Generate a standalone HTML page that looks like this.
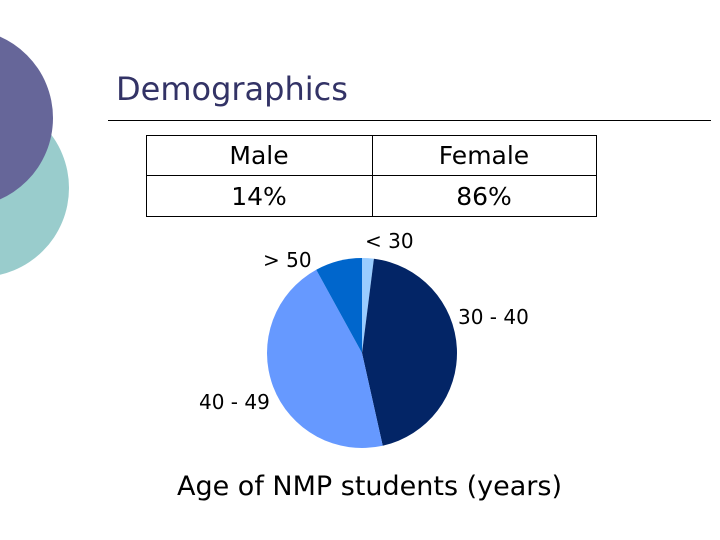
<!DOCTYPE html>
<html><head><meta charset="utf-8"><style>
body{margin:0;width:720px;height:540px;background:#fff;overflow:hidden;position:relative;font-family:"Comic Sans MS","DejaVu Sans","Liberation Sans",sans-serif}
.t{position:absolute;white-space:nowrap}
</style></head><body>
<svg width="720" height="540" style="position:absolute;left:0;top:0">
<circle cx="-20" cy="188" r="89" fill="#99cccc"/>
<circle cx="-36" cy="118" r="89" fill="#666699"/>
<line x1="108" y1="120.5" x2="711" y2="120.5" stroke="#000" stroke-width="1"/>
<rect x="146.5" y="135.5" width="450" height="81" fill="none" stroke="#000"/>
<line x1="146" y1="175.5" x2="596" y2="175.5" stroke="#000"/>
<line x1="372.5" y1="135" x2="372.5" y2="216" stroke="#000"/>
<g id="pie"></g>
</svg>
<div class="t" style="left:116px;top:70px;font-size:32px;color:#333366">Demographics</div>
<div class="t" style="left:146px;width:226px;text-align:center;top:139px;font-size:25px;line-height:34px">Male</div>
<div class="t" style="left:146px;width:226px;text-align:center;top:180px;font-size:25px;line-height:34px">14%</div>
<div class="t" style="left:372px;width:224px;text-align:center;top:139px;font-size:25px;line-height:34px">Female</div>
<div class="t" style="left:372px;width:224px;text-align:center;top:180px;font-size:25px;line-height:34px">86%</div>
<div class="t" style="left:263px;top:248px;font-size:20px">&gt; 50</div>
<div class="t" style="left:365px;top:229px;font-size:20px">&lt; 30</div>
<div class="t" style="left:458px;top:305px;font-size:20px">30 - 40</div>
<div class="t" style="left:199px;top:390px;font-size:20px">40 - 49</div>
<div class="t" style="left:177px;top:471px;font-size:27px">Age of NMP students (years)</div>
<script>
const categories=["< 30","30 - 40","40 - 49","> 50"];
const values=[2,44.5,45.5,8];
const colors=["#99ccff","#032566","#6699ff","#0066cc"];
const cx=362,cy=353,r=95;
const g=document.getElementById('pie');
const total=values.reduce((a,b)=>a+b,0);
let a0=0;
function pt(a){return [cx+r*Math.sin(a),cy-r*Math.cos(a)];}
values.forEach((v,i)=>{
  const a1=a0+v/total*2*Math.PI;
  const p0=pt(a0),p1=pt(a1);
  const path=document.createElementNS('http://www.w3.org/2000/svg','path');
  path.setAttribute('d',`M${cx},${cy}L${p0[0]},${p0[1]}A${r},${r} 0 ${a1-a0>Math.PI?1:0} 1 ${p1[0]},${p1[1]}Z`);
  path.setAttribute('fill',colors[i]);
  
  
  g.appendChild(path);
  a0=a1;
});
</script>
</body></html>
